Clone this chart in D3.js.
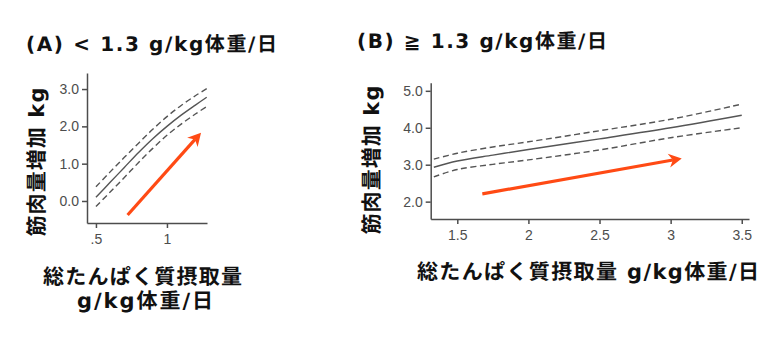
<!DOCTYPE html>
<html>
<head>
<meta charset="utf-8">
<script src="https://cdn.jsdelivr.net/npm/d3@7"></script>
<style>
  body { margin: 0; background: #fff; }
  svg { display: block; }
  .tick text { font-family: "Liberation Sans", Arial, sans-serif; font-size: 14px; fill: #4d4d4d; }
  .axis path, .axis line { stroke: #4d4d4d; stroke-width: 1.5; }
  .jp { font-family: "DejaVu Sans", "Noto Sans CJK JP", sans-serif; font-weight: 700; fill: #111; text-rendering: geometricPrecision; }
</style>
</head>
<body>
<div id="svg_div"><svg width="782" height="350"></svg></div>
<script>
// Panel A: < 1.3 g/kg/day
var xA_vals = [0.5, 0.6, 0.7, 0.8, 0.9, 1.0, 1.1, 1.2, 1.28];
var fitA    = [0.10, 0.50, 0.90, 1.30, 1.67, 2.00, 2.30, 2.57, 2.78];
var upperA  = [0.38, 0.78, 1.17, 1.55, 1.92, 2.26, 2.56, 2.82, 3.01];
var lowerA  = [-0.15, 0.24, 0.63, 1.03, 1.41, 1.76, 2.06, 2.33, 2.53];
var arrowA  = [[0.723, -0.375], [1.24, 1.83]];
var xTicksA = [0.5, 1];
var yTicksA = [0, 1, 2, 3];

// Panel B: >= 1.3 g/kg/day
var xB_vals = [1.335, 1.5, 1.75, 2.0, 2.5, 3.0, 3.5];
var fitB    = [2.93, 3.10, 3.26, 3.41, 3.70, 4.00, 4.34];
var upperB  = [3.15, 3.31, 3.48, 3.62, 3.92, 4.23, 4.64];
var lowerB  = [2.67, 2.87, 3.01, 3.13, 3.40, 3.73, 4.00];
var arrowB  = [[1.676, 2.21], [3.078, 3.17]];
var xTicksB = [1.5, 2, 2.5, 3, 3.5];
var yTicksB = [2, 3, 4, 5];

var svg = d3.select("#svg_div").select("svg");

function panel(cfg) {
    var g = svg.append("g");
    var x = d3.scaleLinear().domain(cfg.xDomain).range(cfg.xRange);
    var y = d3.scaleLinear().domain(cfg.yDomain).range(cfg.yRange);

    // axes
    g.append("g")
        .attr("class", "axis")
        .attr("transform", "translate(0," + cfg.yRange[0] + ")")
        .call(d3.axisBottom(x).tickValues(cfg.xTicks).tickFormat(cfg.xFmt)
            .tickSize(5).tickSizeOuter(0).tickPadding(6));
    g.append("g")
        .attr("class", "axis")
        .attr("transform", "translate(" + cfg.xRange[0] + ",0)")
        .call(d3.axisLeft(y).tickValues(cfg.yTicks).tickFormat(d3.format(".1f"))
            .tickSize(5).tickSizeOuter(0).tickPadding(3));
    g.selectAll(".axis .domain").attr("stroke-width", 2);

    // fitted line and confidence band
    var series = [
        {vals: cfg.upper, dash: "6,3.5"},
        {vals: cfg.lower, dash: "6,3.5"},
        {vals: cfg.fit, dash: null}
    ];
    var line = d3.line()
        .x(function(d) { return x(d[0]); })
        .y(function(d) { return y(d[1]); })
        .curve(d3.curveCatmullRom);
    series.forEach(function(s) {
        g.append("path")
            .datum(cfg.xs.map(function(v, i) { return [v, s.vals[i]]; }))
            .attr("d", line)
            .attr("fill", "none")
            .attr("stroke", "#555")
            .attr("stroke-width", 1.4)
            .attr("stroke-dasharray", s.dash);
    });

    // orange arrow
    var p0 = [x(cfg.arrow[0][0]), y(cfg.arrow[0][1])];
    var p1 = [x(cfg.arrow[1][0]), y(cfg.arrow[1][1])];
    var ang = Math.atan2(p1[1] - p0[1], p1[0] - p0[0]);
    var L = 13, W = 7, N = 9;
    function pt(along, side) {
        return [p1[0] + along * Math.cos(ang) - side * Math.sin(ang),
                p1[1] + along * Math.sin(ang) + side * Math.cos(ang)];
    }
    var back = pt(-N, 0);
    g.append("line")
        .attr("x1", p0[0]).attr("y1", p0[1])
        .attr("x2", back[0]).attr("y2", back[1])
        .attr("stroke", "#ff4a14")
        .attr("stroke-width", 3.2);
    g.append("path")
        .attr("d", "M" + [p1, pt(-L, W), back, pt(-L, -W)].join("L") + "Z")
        .attr("fill", "#ff4a14");

    // texts
    g.append("text").attr("class", "jp")
        .attr("x", cfg.title[0]).attr("y", cfg.title[1])
        .attr("font-size", 20)
        .attr("textLength", cfg.title[2]).attr("lengthAdjust", "spacing")
        .text(cfg.titleText);

    g.append("text").attr("class", "jp")
        .attr("transform", "translate(" + cfg.ylab[0] + "," + cfg.ylab[1] + ") rotate(-90)")
        .attr("text-anchor", "middle")
        .attr("dominant-baseline", "central")
        .attr("font-size", 21)
        .attr("textLength", 149).attr("lengthAdjust", "spacing")
        .text("筋肉量増加 kg");

    cfg.xlab.forEach(function(l) {
        g.append("text").attr("class", "jp")
            .attr("x", l.x).attr("y", l.y)
            .attr("text-anchor", "middle")
            .attr("font-size", 21)
            .attr("textLength", l.w).attr("lengthAdjust", "spacing")
            .text(l.t);
    });
}

panel({
    xs: xA_vals, fit: fitA, upper: upperA, lower: lowerA, arrow: arrowA,
    xDomain: [0.437, 1.282], xRange: [87, 207],
    yDomain: [-0.59, 3.43], yRange: [223, 73],
    xTicks: xTicksA, yTicks: yTicksA,
    xFmt: function(d) { return d === 0.5 ? ".5" : d3.format("d")(d); },
    title: [26, 51, 251], titleText: "(A) < 1.3 g/kg体重/日",
    ylab: [37, 162],
    xlab: [{t: "総たんぱく質摂取量", x: 142.5, y: 284, w: 199},
           {t: "g/kg体重/日", x: 145, y: 308, w: 136}]
});

panel({
    xs: xB_vals, fit: fitB, upper: upperB, lower: lowerB, arrow: arrowB,
    xDomain: [1.313, 3.551], xRange: [430.7, 749],
    yDomain: [1.53, 5.22], yRange: [219, 82.7],
    xTicks: xTicksB, yTicks: yTicksB,
    xFmt: d3.format("~g"),
    title: [357, 48, 250], titleText: "(B) ≧ 1.3 g/kg体重/日",
    ylab: [372, 160],
    xlab: [{t: "総たんぱく質摂取量 g/kg体重/日", x: 588, y: 279, w: 342}]
});
</script>
</body>
</html>
